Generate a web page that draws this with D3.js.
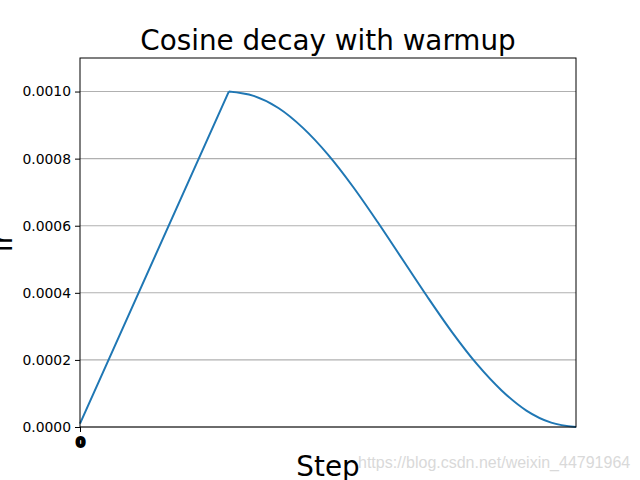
<!DOCTYPE html>
<html><head><meta charset="utf-8">
<script src="https://cdn.jsdelivr.net/npm/d3@7"></script>
<style>body{margin:0;background:#fff}</style>
</head><body>
<svg id="c" width="640" height="480"></svg>
<script>
const warmupSteps = [0, 30];
const warmupLr = [0.00001, 0.001];
const decaySteps = [30, 35, 40, 45, 50, 55, 60, 65, 70, 75, 80, 85, 90, 95, 100];
const decayLr = [0.001, 0.000987, 0.000951, 0.000891, 0.000812, 0.000717, 0.000611,
  0.0005, 0.000389, 0.000283, 0.000188, 0.000109, 0.000049, 0.000013, 0.0];
const yTicks = [0, 0.0002, 0.0004, 0.0006, 0.0008, 0.0010];
const xTicks = [0];
const titleText = "Cosine decay with warmup";
const xLabel = "Step";
const yLabel = "lr";
const watermark = "https://blog.csdn.net/weixin_44791964";

const svg = d3.select("#c");
const L = 80, R = 576, T = 58, B = 427;
const x = d3.scaleLinear().domain([0, 100]).range([L, R]);
const y = d3.scaleLinear().domain([0, 0.0011]).range([B, T]);
const font = "'DejaVu Sans', sans-serif";

// grid
svg.append("g").selectAll("line").data(yTicks).join("line")
  .attr("x1", L).attr("x2", R)
  .attr("y1", d => y(d)).attr("y2", d => y(d))
  .attr("stroke", "#b0b0b0").attr("stroke-width", 1.1);

// line: warmup (straight) + decay (smooth)
const warm = warmupSteps.map((s, i) => [s, warmupLr[i]]);
const decay = decaySteps.map((s, i) => [s, decayLr[i]]);
const lineGen = d3.line().x(d => x(d[0])).y(d => y(d[1]));
const pathD = lineGen.curve(d3.curveLinear)(warm) +
  lineGen.curve(d3.curveMonotoneX)(decay).replace(/^M[^LC]*/, "L" + x(decaySteps[0]) + "," + y(decayLr[0]));
svg.append("path")
  .attr("fill", "none").attr("stroke", "#1f77b4").attr("stroke-width", 2)
  .attr("stroke-linejoin", "miter")
  .attr("d", pathD);

// axes
const ya = svg.append("g").attr("transform", `translate(${L},0)`)
  .call(d3.axisLeft(y).tickValues(yTicks).tickFormat(d3.format(".4f")).tickSizeOuter(0).tickSize(5).tickPadding(4));
ya.select(".domain").remove();
ya.selectAll("text").attr("font-family", font).attr("font-size", "13.9px").attr("fill", "#000");
ya.selectAll("line").attr("stroke", "#000").attr("stroke-width", 1);

const xa = svg.append("g").attr("transform", `translate(0,${B})`)
  .call(d3.axisBottom(x).tickValues(xTicks).tickFormat(d => d).tickSizeOuter(0).tickSize(5).tickPadding(5));
xa.select(".domain").remove();
xa.selectAll("text").attr("font-family", font).attr("font-size", "13.9px").attr("fill", "#000")
  .attr("font-weight", "bold").attr("stroke", "#000").attr("stroke-width", 1.8);
xa.selectAll("line").attr("stroke", "#000").attr("stroke-width", 1);

// spines
svg.append("rect").attr("x", L).attr("y", T).attr("width", R - L).attr("height", B - T)
  .attr("fill", "none").attr("stroke", "#000").attr("stroke-width", 1);

// title
svg.append("text").attr("x", (L + R) / 2).attr("y", 50).attr("text-anchor", "middle")
  .attr("font-family", font).attr("font-size", "27.8px").text(titleText);
// x label
svg.append("text").attr("x", (L + R) / 2).attr("y", 476).attr("text-anchor", "middle")
  .attr("font-family", font).attr("font-size", "27.8px").text(xLabel);
// y label
svg.append("text").attr("transform", `translate(12,${(T + B) / 2}) rotate(-90)`)
  .attr("text-anchor", "middle")
  .attr("font-family", font).attr("font-size", "27.8px").text(yLabel);
// watermark
svg.append("text").attr("x", 358).attr("y", 468)
  .attr("font-family", "'Liberation Sans', Arial, sans-serif").attr("font-size", "16px")
  .attr("fill", "#d9d9d9").text(watermark);
</script>
</body></html>
